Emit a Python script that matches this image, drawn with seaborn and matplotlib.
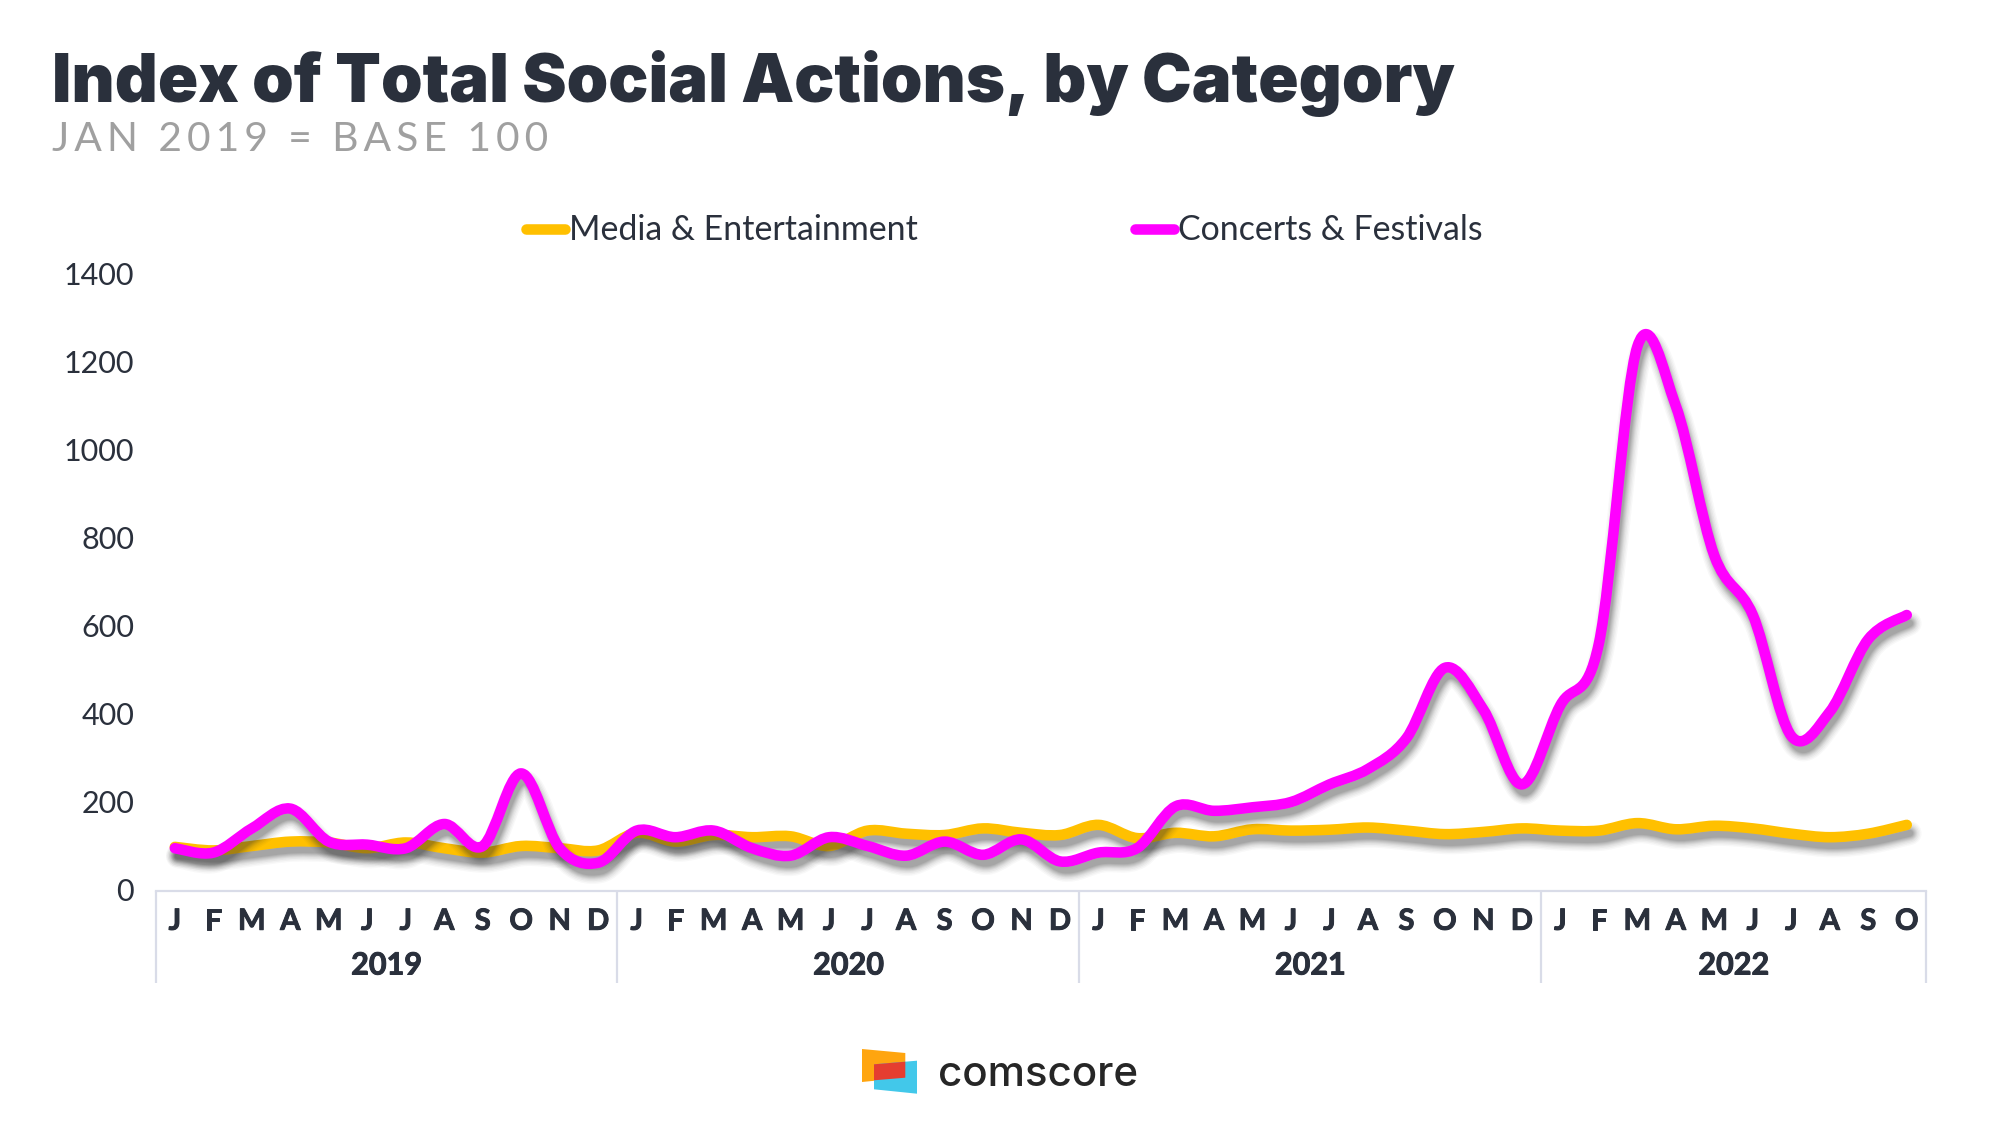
import numpy as np
import pandas as pd
import seaborn as sns
import matplotlib
matplotlib.use("Agg")
import matplotlib.pyplot as plt
import matplotlib.patheffects as pe
from matplotlib.path import Path
from matplotlib.patches import PathPatch, Polygon
from matplotlib.lines import Line2D
from matplotlib.transforms import ScaledTranslation

W, H = 2000, 1125
INK = "#2a303c"

title = "Index of Total Social Actions, by Category"
subtitle = "JAN 2019 = BASE 100"
months = list("JFMAMJJASOND") * 3 + list("JFMAMJJASO")
years = ["2019", "2020", "2021", "2022"]
series_names = ["Media & Entertainment", "Concerts & Festivals"]
media = [98, 90, 100, 110, 108, 95, 108, 95, 85, 100, 95, 90,
         130, 110, 125, 120, 122, 100, 135, 128, 125, 140, 130, 125,
         148, 118, 130, 122, 138, 135, 137, 142, 135, 127, 132, 140,
         135, 135, 152, 138, 146, 140, 128, 120, 128, 148]
concerts = [95, 85, 140, 185, 110, 103, 95, 150, 100, 265, 95, 62,
            135, 120, 135, 95, 78, 120, 100, 78, 110, 80, 115, 65,
            85, 95, 190, 180, 188, 200, 240, 275, 345, 505, 410, 240,
            420, 560, 1235, 1100, 760, 625, 350, 405, 570, 625]
colors = ["#FFC000", "#FF00FF"]

sns.set_theme(style="white")
plt.rcParams["font.family"] = ["Lato", "DejaVu Sans"]

fig = plt.figure(figsize=(W / 100, H / 100), dpi=100, facecolor="white")
L, R, T, B = 155.6, 1926, 274, 890
ax = fig.add_axes([L / W, 1 - B / H, (R - L) / W, (B - T) / H])

n = len(months)
df = pd.DataFrame({
    "pos": list(range(n)) * 2,
    "value": media + concerts,
    "series": [series_names[0]] * n + [series_names[1]] * n,
})
sns.lineplot(data=df, x="pos", y="value", hue="series", palette=colors,
             legend=False, ax=ax, errorbar=None, sort=False)
ax.set_xlim(-0.5, n - 0.5)
ax.set_ylim(0, 1400)


def smooth_path(xy):
    """Spreadsheet-style smoothed rendering of the polyline through the values."""
    verts, codes = [xy[0]], [Path.MOVETO]
    m = len(xy)
    for i in range(m - 1):
        p0 = xy[max(i - 1, 0)]
        p1, p2 = xy[i], xy[i + 1]
        p3 = xy[min(i + 2, m - 1)]
        verts += [p1 + (p2 - p0) / 6, p2 - (p3 - p1) / 6, p2]
        codes += [Path.CURVE4] * 3
    return Path(verts, codes)


shadow = [pe.Stroke(linewidth=w, foreground="#303030", alpha=a, offset=(2.2, -6))
          for w, a in [(17, .03), (15, .04), (13, .05), (11, .06), (9.5, .07), (8, .08), (6.5, .09), (5, .1)]]
for i, (line, c) in enumerate(zip(list(ax.lines), colors)):
    patch = PathPatch(smooth_path(line.get_xydata()), fill=False, edgecolor=c, lw=7.6,
                      capstyle="round", joinstyle="round", zorder=3 + i, clip_on=False,
                      path_effects=shadow + [pe.Normal()])
    ax.add_patch(patch)
    line.set_visible(False)

sns.despine(ax=ax, left=True, top=True, right=True, bottom=False)
ax.spines["bottom"].set_color("#d9dce8")
ax.spines["bottom"].set_linewidth(1.6)
ax.spines["bottom"].set_position(("outward", 1))
ax.set_xlabel("")
ax.set_ylabel("")
ax.grid(False)
ax.set_yticks(range(0, 1401, 200))
ax.set_xticks(range(n))
bold_fx = [pe.withStroke(linewidth=0.7, foreground=INK)]
ax.set_xticklabels(months, fontsize=21, fontweight="bold", color=INK, path_effects=bold_fx)
ax.tick_params(axis="x", length=0, pad=12.5)
ax.tick_params(axis="y", length=0, pad=15.5, labelsize=22, labelcolor=INK)
lift = ScaledTranslation(0, 0.5 / 72, fig.dpi_scale_trans)
for t in ax.get_yticklabels():
    t.set_transform(t.get_transform() + lift)

tx = ax.get_xaxis_transform()
seps = [-0.5, 11.5, 23.5, 35.5, n - 0.5]
for s in seps:
    ax.plot([s, s], [-1.4 / (B - T), -93 / (B - T)], transform=tx, clip_on=False,
            color="#d9dce8", lw=1.6, solid_capstyle="butt")
for y, a, b in zip(years, seps[:-1], seps[1:]):
    ax.text((a + b) / 2, -75.5 / (B - T), y, transform=tx, ha="center", va="center",
            fontsize=22, fontweight="bold", color=INK, path_effects=bold_fx)

fig.text(52 / W, 1 - 102 / H, title, fontsize=48, fontweight=900, color=INK, va="baseline",
         family=["Inter", "DejaVu Sans"])
fig.text(52 / W, 1 - 151 / H, "\u200a\u200a".join(subtitle), fontsize=29.3, color="#a0a0a0",
         va="baseline", family=["Lato", "DejaVu Sans"])

handles = [Line2D([], [], color=c, lw=7.6, solid_capstyle="round") for c in colors]
leg = ax.legend(handles, series_names, ncol=2, frameon=False, loc="center",
                bbox_to_anchor=(1004.5 / W, 1 - 230.5 / H), bbox_transform=fig.transFigure,
                prop={"size": 24.4}, handlelength=1.15, handletextpad=0.13,
                columnspacing=6.4, borderpad=0, borderaxespad=0)
for t in leg.get_texts():
    t.set_color(INK)

for pts, c in [([(862, 1049), (905.3, 1053), (905.3, 1077.7), (862, 1082)], "#FFA50F"),
               ([(874, 1064.3), (917, 1060.7), (917, 1093.7), (874, 1089.3)], "#42C8EA"),
               ([(874, 1064.3), (905.3, 1061.7), (905.3, 1077.7), (874, 1080.3)], "#E53D30")]:
    fig.add_artist(Polygon([(x / W, 1 - y / H) for x, y in pts], closed=True, color=c, lw=0,
                           transform=fig.transFigure))
fig.text(938 / W, 1 - 1086 / H, "comscore", fontsize=30.3, family=["Inter", "DejaVu Sans"],
         fontweight=500, color="#262626", va="baseline")

fig.savefig("out.png", dpi=100, facecolor="white")
